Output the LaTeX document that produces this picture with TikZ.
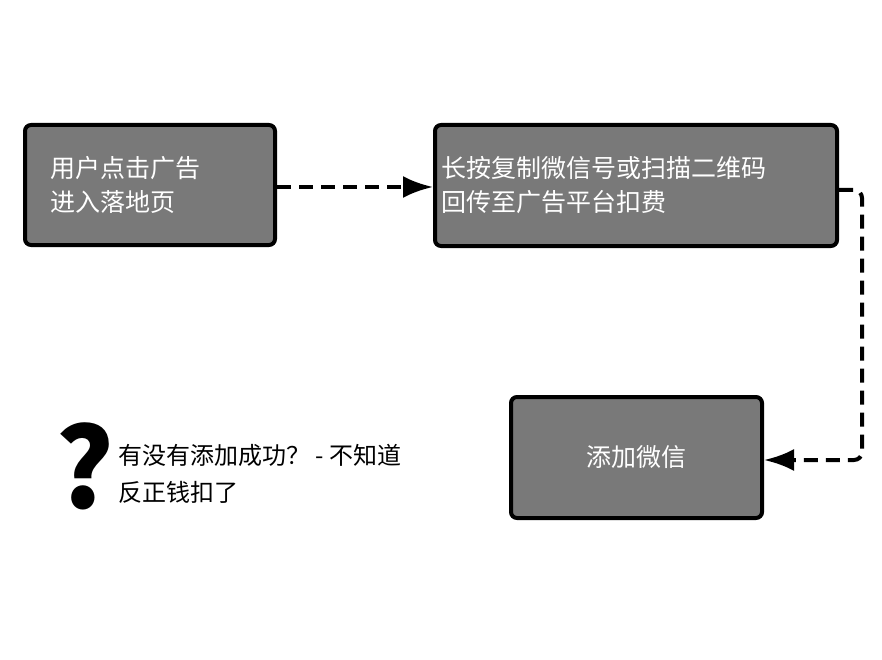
\documentclass[tikz,border=0pt]{standalone}
\usepackage{fontspec}
\setmainfont{Noto Sans CJK SC}
\usetikzlibrary{arrows.meta}
\tikzset{
  stepbox/.style={draw=black,line width=4pt,fill=gray!95!black,rounded corners=6pt,text=white,font=\fontsize{25}{34}\selectfont,align=left},
  flow/.style={line width=4pt,dash pattern=on 14pt off 8pt,-{Latex[length=30pt,width=22pt]}}
}
\begin{document}
\begin{tikzpicture}[x=1pt,y=-1pt]
  \useasboundingbox (0,0) rectangle (882,660);
  \node[stepbox,minimum width=250pt,minimum height=120pt,text width=200pt] (click) at (150,185) {用户点击广告\\进入落地页};
  \node[stepbox,minimum width=402pt,minimum height=121pt,text width=390pt] (scan) at (636,185.5) {长按复制微信号或扫描二维码\\回传至广告平台扣费};
  \node[stepbox,minimum width=251pt,minimum height=121pt,align=center] (add) at (636.5,457.5) {添加微信};
  \draw[flow] (click.east |- 0,187) -- (scan.west |- 0,187);
  \draw[flow,rounded corners=8pt] (scan.east |- 0,190) -- (862,190) -- (862,460) -- (add.east |- 0,460);
  \node[font=\fontsize{110}{110}\selectfont\bfseries] (mark) at (85,466) {?};
  \node[anchor=west,align=left,font=\fontsize{24}{37}\selectfont] (note) at (115,474) {有没有添加成功？ - 不知道\\反正钱扣了};
\end{tikzpicture}
\end{document}
